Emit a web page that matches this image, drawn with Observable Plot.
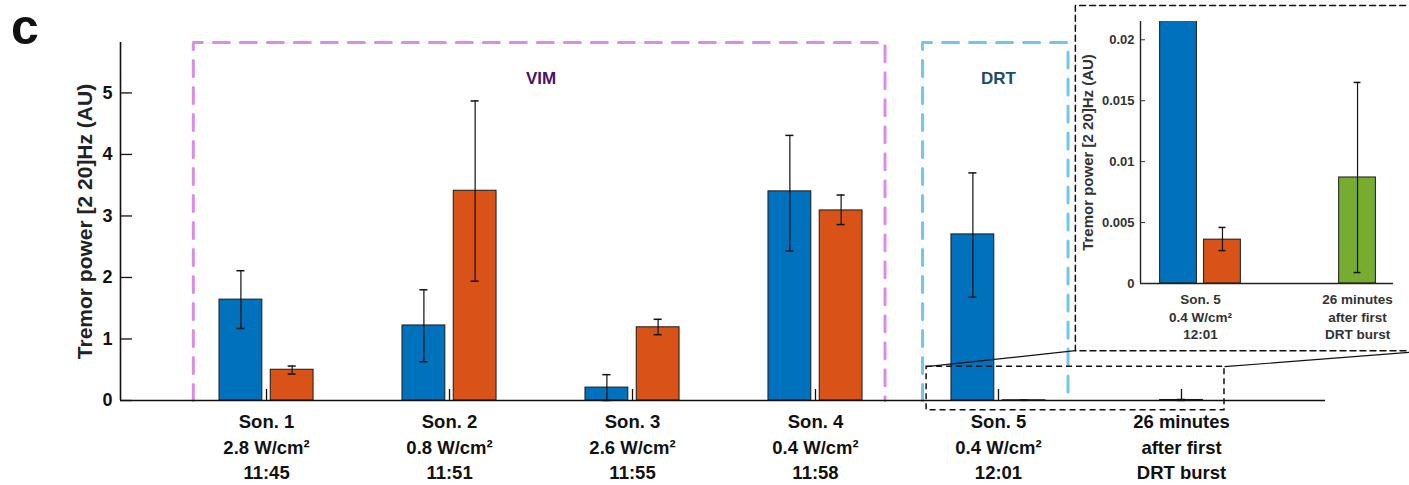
<!DOCTYPE html>
<html><head><meta charset="utf-8">
<script src="https://cdn.jsdelivr.net/npm/d3@7"></script>
<script src="https://cdn.jsdelivr.net/npm/@observablehq/plot@0.6"></script>
<style>
body{margin:0;background:#fff;}
#wrap{position:relative;width:1409px;height:485px;overflow:hidden;font-family:"Liberation Sans",Arial,sans-serif;}
#panel{position:absolute;left:11px;top:2px;font-size:50px;font-weight:bold;line-height:50px;color:#111;}
#main{position:absolute;left:0;top:0;}
#inset{position:absolute;left:1075px;top:5px;}
</style></head><body>
<div id="wrap"><div id="main"></div><div id="inset"></div><div id="panel">c</div></div>
<script>
// ---- data ----
const line1 = ["Son. 1", "Son. 2", "Son. 3", "Son. 4", "Son. 5", "26 minutes"];
const line2 = ["2.8 W/cm²", "0.8 W/cm²", "2.6 W/cm²", "0.4 W/cm²", "0.4 W/cm²", "after first"];
const line3 = ["11:45", "11:51", "11:55", "11:58", "12:01", "DRT burst"];
const blueMean  = [1.64, 1.22, 0.21, 3.40, 2.70, null];
const blueLow   = [1.17, 0.63, 0.00, 2.43, 1.68, null];
const blueHigh  = [2.11, 1.80, 0.42, 4.31, 3.70, null];
const orangeMean = [0.50, 3.41, 1.19, 3.09, 0.0036, null];
const orangeLow  = [0.43, 1.94, 1.07, 2.86, 0.0027, null];
const orangeHigh = [0.56, 4.87, 1.32, 3.34, 0.0046, null];
const greenMean = [null, null, null, null, null, 0.0087];
const greenLow  = [null, null, null, null, null, 0.0009];
const greenHigh = [null, null, null, null, null, 0.0165];
const yTicksMain = [0, 1, 2, 3, 4, 5];
const yTicksInset = [0, 0.005, 0.01, 0.015, 0.02];
const yLabel = "Tremor power [2 20]Hz (AU)";
const insetGroups = [4, 5];

// ---- styling / layout config ----
const series = [
  {key: "blue",   color: "#0072BD", offset: -0.14, mean: blueMean,   low: blueLow,   high: blueHigh},
  {key: "green",  color: "#77AC30", offset: 0,     mean: greenMean,  low: greenLow,  high: greenHigh},
  {key: "orange", color: "#D95319", offset: 0.14,  mean: orangeMean, low: orangeLow, high: orangeHigh}
];
const halfW = 0.117;
const rows = [];
line1.forEach((_, g) => series.forEach(s => {
  if (s.mean[g] != null) rows.push({g, c: g + s.offset, color: s.color, value: s.mean[g], low: s.low[g], high: s.high[g]});
}));
const fmt = i => `${line1[i]}\n${line2[i]}\n${line3[i]}`;
const font = "'Liberation Sans', Arial, Helvetica, sans-serif";

const regions = [
  {name: "VIM", x1: -0.40, x2: 3.38, top: 5.82, color: "#d98de9", text: "#4a1462", tx: 1.50, ty: 5.23},
  {name: "DRT", x1: 3.585, x2: 4.38, top: 5.82, color: "#72c6ea", text: "#1d4a6c", tx: 4.0, ty: 5.23}
];
const zoomBox = {x1: 3.607, x2: 5.235, y1: -0.16, y2: 0.55};
const insetFrame = [[6.5, 0.81], [4.42, 0.81], [4.42, 6.42], [6.5, 6.42]];
const connectors = [
  {x1: zoomBox.x1, y1: zoomBox.y2, x2: 4.42, y2: 0.81},
  {x1: zoomBox.x2, y1: zoomBox.y2, x2: 6.5, y2: 0.84}
];

const barMarks = (data, cap, clip) => [
  Plot.rectY(data, {x1: d => d.c - halfW, x2: d => d.c + halfW, y1: 0, y2: "value", fill: "color", stroke: "#1a1a1a", strokeWidth: 1, clip}),
  Plot.ruleX(data, {x: "c", y1: "low", y2: "high", stroke: "#111", strokeWidth: 1.2, clip}),
  Plot.ruleY(data, {y: "high", x1: d => d.c - cap, x2: d => d.c + cap, stroke: "#111", strokeWidth: 1.5, clip}),
  Plot.ruleY(data, {y: "low", x1: d => d.c - cap, x2: d => d.c + cap, stroke: "#111", strokeWidth: 1.5, clip})
];

const main = Plot.plot({
  width: 1409, height: 485,
  marginLeft: 120, marginRight: 84, marginTop: 42, marginBottom: 85,
  style: {fontFamily: font, background: "transparent", color: "#111"},
  x: {domain: [-0.798, 5.787], label: null},
  y: {domain: [0, 5.82], label: null},
  color: {type: "identity"},
  marks: [
    ...regions.map(r => Plot.line([[r.x1, 0], [r.x1, r.top], [r.x2, r.top], [r.x2, 0]],
      {stroke: r.color, strokeWidth: 3, strokeDasharray: "16,11"})),
    Plot.text(regions, {x: "tx", y: "ty", text: "name", fill: "text", fontSize: 17, fontWeight: "bold"}),
    ...barMarks(rows, 0.022, false),
    Plot.ruleY([0], {stroke: "#111", strokeWidth: 1.6}),
    Plot.ruleX([-0.798], {stroke: "#111", strokeWidth: 1.6}),
    Plot.axisY(yTicksMain, {tickSize: 0, tickPadding: 8, tickFormat: d => String(d), fontSize: 18, fontWeight: "bold", label: null}),
    Plot.axisY(yTicksMain, {tickSize: -12, tickFormat: () => "", label: null, strokeWidth: 1.3}),
    Plot.axisX(d3.range(6), {tickSize: 0, tickPadding: 10, tickFormat: fmt, fontSize: 18.5, fontWeight: "bold", lineHeight: 1.36, label: null}),
    Plot.axisX(d3.range(6), {tickSize: -11, tickFormat: () => "", label: null, strokeWidth: 1.3}),
    Plot.text([yLabel], {frameAnchor: "left", textAnchor: "middle", rotate: -90, dx: -35, fontSize: 21, fontWeight: "bold", fill: "#222"}),
    Plot.rect([zoomBox], {x1: "x1", x2: "x2", y1: "y1", y2: "y2", fill: "none", stroke: "#111", strokeWidth: 1.5, strokeDasharray: "6,4"}),
    Plot.line(insetFrame, {stroke: "#111", strokeWidth: 1.5, strokeDasharray: "6,4"}),
    Plot.link(connectors, {x1: "x1", y1: "y1", x2: "x2", y2: "y2", stroke: "#111", strokeWidth: 1.2})
  ]
});
document.getElementById("main").append(main);

const insetRows = rows.filter(d => insetGroups.includes(d.g)).map(d => ({...d, c: d.c - insetGroups[0], g: d.g - insetGroups[0]}));
const inset = Plot.plot({
  width: 334, height: 345,
  marginLeft: 65, marginRight: 16, marginTop: 16, marginBottom: 67,
  style: {fontFamily: font, background: "transparent", color: "#333"},
  x: {domain: [-0.382, 1.229], label: null},
  y: {domain: [0, 0.0215], label: null},
  color: {type: "identity"},
  marks: [
    ...barMarks(insetRows, 0.022, true),
    Plot.ruleY([0], {stroke: "#222", strokeWidth: 1.4}),
    Plot.ruleX([-0.382], {stroke: "#222", strokeWidth: 1.4}),
    Plot.axisY(yTicksInset, {tickSize: 0, tickPadding: 6, tickFormat: d => String(d), fontSize: 13, fontWeight: "bold", label: null}),
    Plot.axisY(yTicksInset, {tickSize: -5, tickFormat: () => "", label: null}),
    Plot.axisX([0, 1], {tickSize: 0, tickPadding: 8, tickFormat: i => fmt(insetGroups[i]), fontSize: 13.5, fontWeight: "bold", lineHeight: 1.3, label: null}),
    Plot.text([yLabel], {frameAnchor: "left", textAnchor: "middle", rotate: -90, dx: -52, fontSize: 15, fontWeight: "bold", fill: "#333"})
  ]
});
document.getElementById("inset").append(inset);
</script>
</body></html>
